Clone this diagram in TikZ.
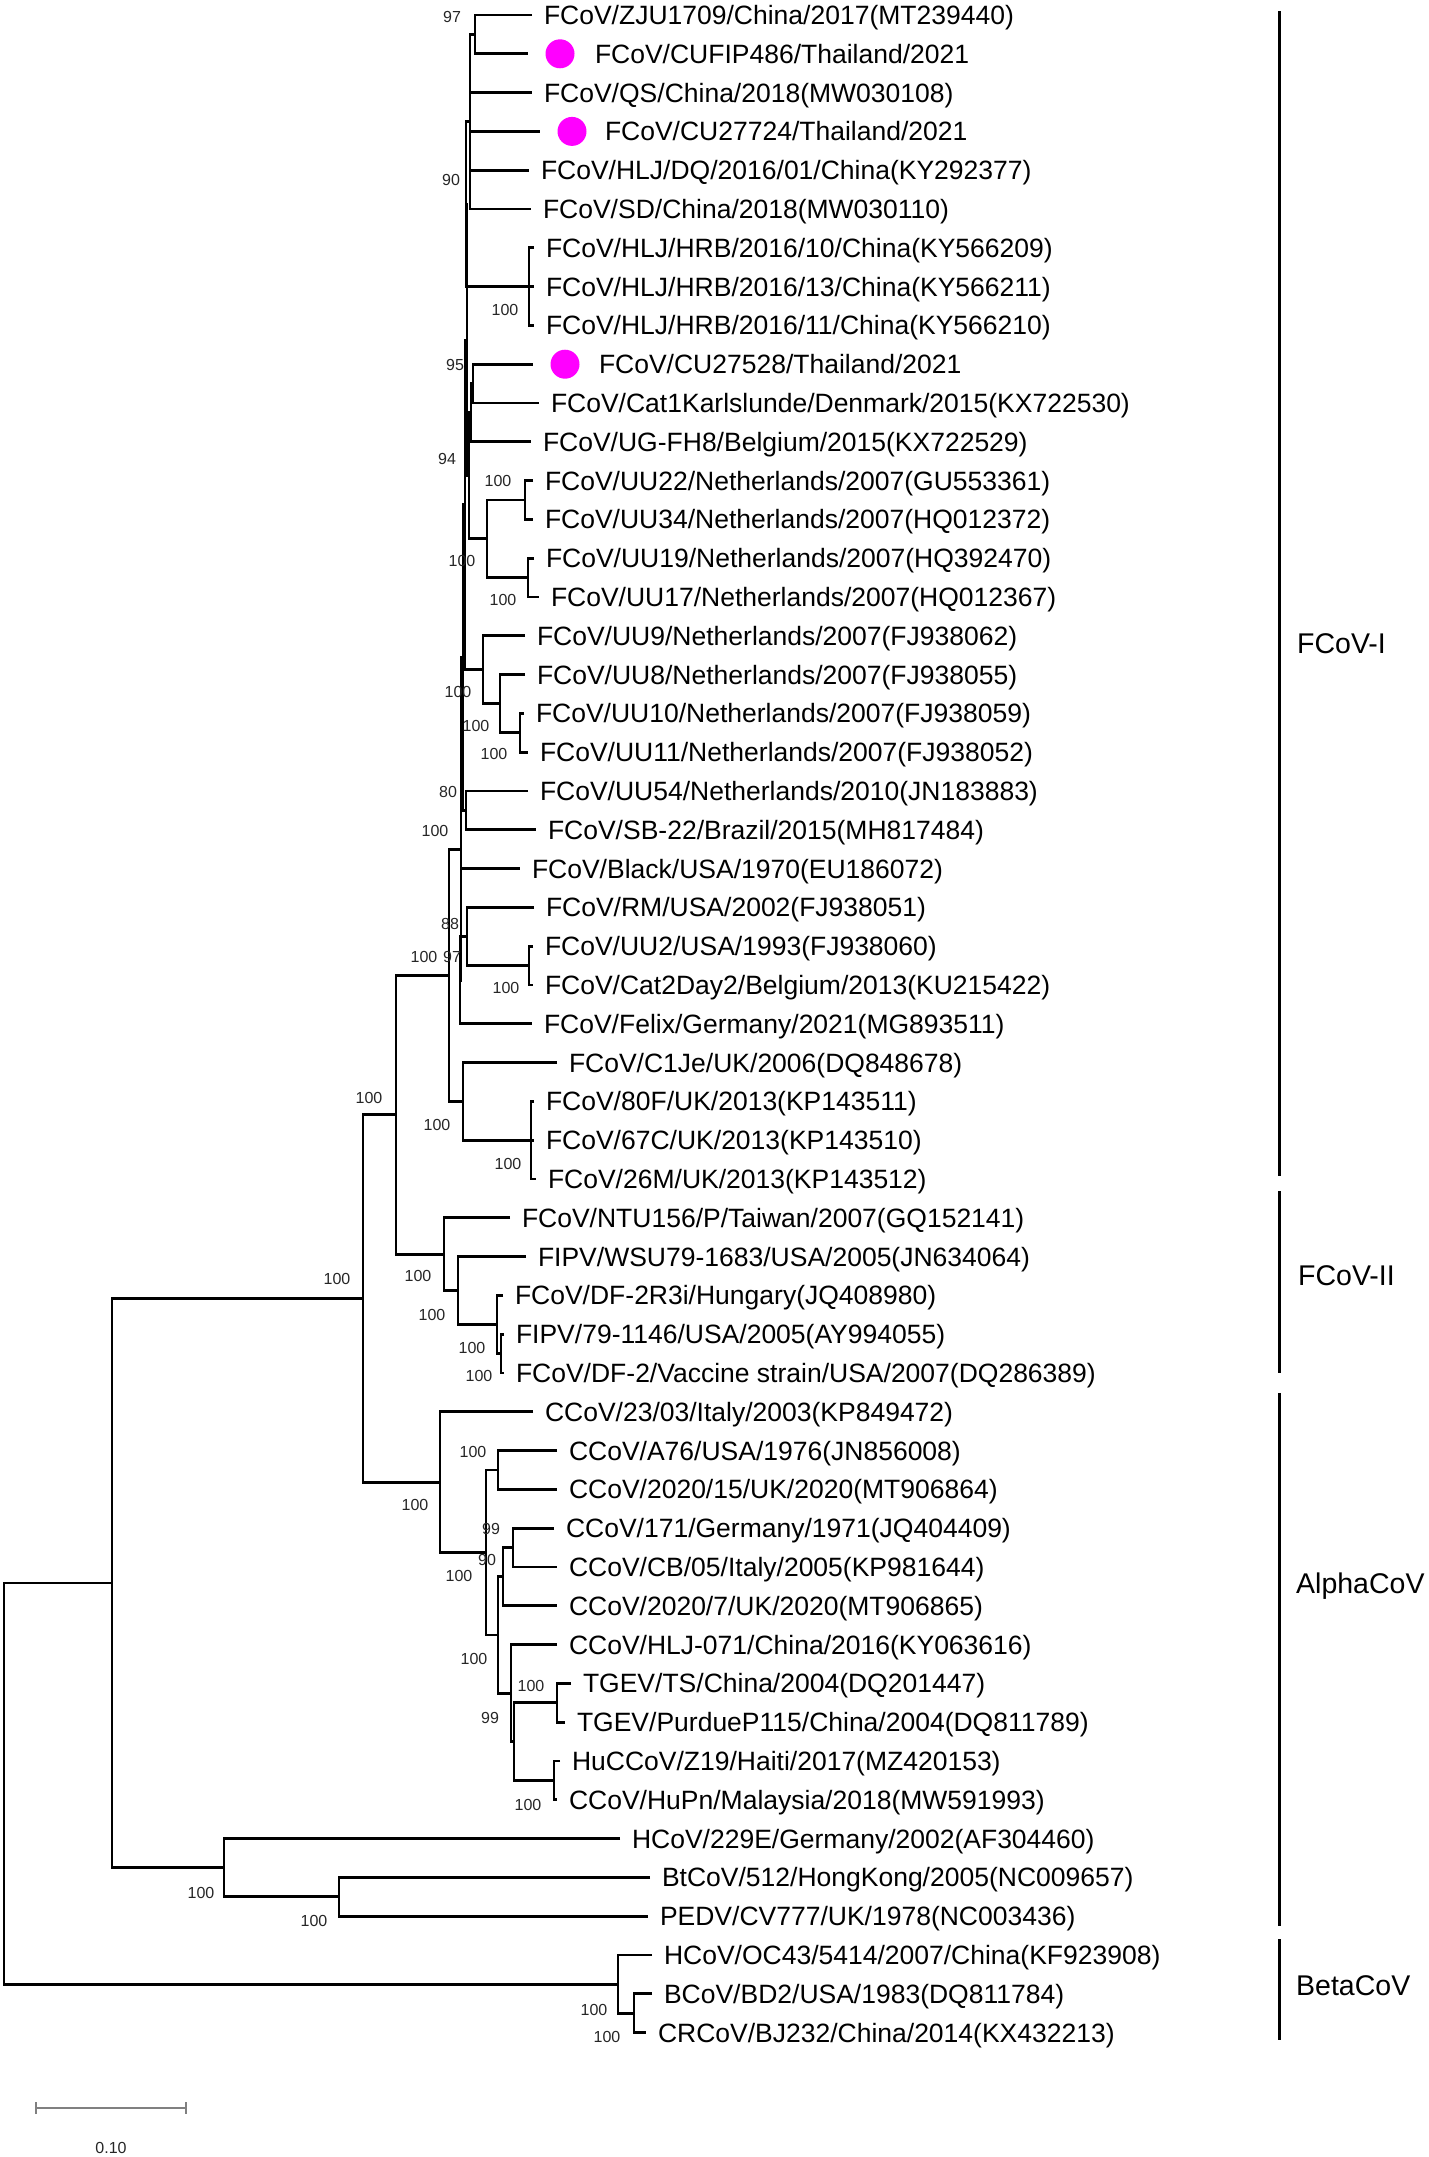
\documentclass[tikz,border=0pt]{standalone}
\usepackage{fontspec}
\setmainfont{Liberation Sans}
\usetikzlibrary{arrows.meta}
\definecolor{thaimag}{RGB}{255,0,255}

\begin{document}
\begin{tikzpicture}[x=1pt,y=-38.8pt,
    br/.style={line width=2.8pt},
    leaf/.style={anchor=west,inner xsep=12pt,inner ysep=0pt,outer sep=0pt,
      text height=19pt,text depth=0pt,font=\fontsize{26.5}{30}\selectfont},
    bs/.style={inner sep=0pt,text height=11.5pt,text depth=0pt,text=black!85,
      font=\fontsize{16}{18}\selectfont},
    thai/.style={circle,fill=thaimag,minimum size=29pt,inner sep=0pt,outer sep=18pt},
    clade/.style={anchor=west,inner sep=0pt,text height=20pt,text depth=0pt,
      font=\fontsize{28.5}{32}\selectfont},
    cbar/.style={line width=3pt},
    sbar/.style={line width=2pt,draw=black!50,{Bar[width=12pt]}-{Bar[width=12pt]}}]
      \useasboundingbox (0,-0.3866) rectangle (1429,55.2062);

      \node[leaf] (l0) at (532,0) {FCoV/ZJU1709/China/2017(MT239440)};
      \node[thai] (d1) at (560,1) {};
      \node[leaf] (l1) at (583,1) {FCoV/CUFIP486/Thailand/2021};
      \node[leaf] (l2) at (532,2) {FCoV/QS/China/2018(MW030108)};
      \node[thai] (d3) at (572,3) {};
      \node[leaf] (l3) at (593,3) {FCoV/CU27724/Thailand/2021};
      \node[leaf] (l4) at (529,4) {FCoV/HLJ/DQ/2016/01/China(KY292377)};
      \node[leaf] (l5) at (531,5) {FCoV/SD/China/2018(MW030110)};
      \node[leaf] (l6) at (534,6) {FCoV/HLJ/HRB/2016/10/China(KY566209)};
      \node[leaf] (l7) at (534,7) {FCoV/HLJ/HRB/2016/13/China(KY566211)};
      \node[leaf] (l8) at (534,8) {FCoV/HLJ/HRB/2016/11/China(KY566210)};
      \node[thai] (d9) at (565,9) {};
      \node[leaf] (l9) at (587,9) {FCoV/CU27528/Thailand/2021};
      \node[leaf] (l10) at (539,10) {FCoV/Cat1Karlslunde/Denmark/2015(KX722530)};
      \node[leaf] (l11) at (531,11) {FCoV/UG-FH8/Belgium/2015(KX722529)};
      \node[leaf] (l12) at (533,12) {FCoV/UU22/Netherlands/2007(GU553361)};
      \node[leaf] (l13) at (533,13) {FCoV/UU34/Netherlands/2007(HQ012372)};
      \node[leaf] (l14) at (534,14) {FCoV/UU19/Netherlands/2007(HQ392470)};
      \node[leaf] (l15) at (539,15) {FCoV/UU17/Netherlands/2007(HQ012367)};
      \node[leaf] (l16) at (525,16) {FCoV/UU9/Netherlands/2007(FJ938062)};
      \node[leaf] (l17) at (525,17) {FCoV/UU8/Netherlands/2007(FJ938055)};
      \node[leaf] (l18) at (524,18) {FCoV/UU10/Netherlands/2007(FJ938059)};
      \node[leaf] (l19) at (528,19) {FCoV/UU11/Netherlands/2007(FJ938052)};
      \node[leaf] (l20) at (528,20) {FCoV/UU54/Netherlands/2010(JN183883)};
      \node[leaf] (l21) at (536,21) {FCoV/SB-22/Brazil/2015(MH817484)};
      \node[leaf] (l22) at (520,22) {FCoV/Black/USA/1970(EU186072)};
      \node[leaf] (l23) at (534,23) {FCoV/RM/USA/2002(FJ938051)};
      \node[leaf] (l24) at (533,24) {FCoV/UU2/USA/1993(FJ938060)};
      \node[leaf] (l25) at (533,25) {FCoV/Cat2Day2/Belgium/2013(KU215422)};
      \node[leaf] (l26) at (532,26) {FCoV/Felix/Germany/2021(MG893511)};
      \node[leaf] (l27) at (557,27) {FCoV/C1Je/UK/2006(DQ848678)};
      \node[leaf] (l28) at (534,28) {FCoV/80F/UK/2013(KP143511)};
      \node[leaf] (l29) at (534,29) {FCoV/67C/UK/2013(KP143510)};
      \node[leaf] (l30) at (536,30) {FCoV/26M/UK/2013(KP143512)};
      \node[leaf] (l31) at (510,31) {FCoV/NTU156/P/Taiwan/2007(GQ152141)};
      \node[leaf] (l32) at (526,32) {FIPV/WSU79-1683/USA/2005(JN634064)};
      \node[leaf] (l33) at (503,33) {FCoV/DF-2R3i/Hungary(JQ408980)};
      \node[leaf] (l34) at (504,34) {FIPV/79-1146/USA/2005(AY994055)};
      \node[leaf] (l35) at (504,35) {FCoV/DF-2/Vaccine strain/USA/2007(DQ286389)};
      \node[leaf] (l36) at (533,36) {CCoV/23/03/Italy/2003(KP849472)};
      \node[leaf] (l37) at (557,37) {CCoV/A76/USA/1976(JN856008)};
      \node[leaf] (l38) at (557,38) {CCoV/2020/15/UK/2020(MT906864)};
      \node[leaf] (l39) at (554,39) {CCoV/171/Germany/1971(JQ404409)};
      \node[leaf] (l40) at (557,40) {CCoV/CB/05/Italy/2005(KP981644)};
      \node[leaf] (l41) at (557,41) {CCoV/2020/7/UK/2020(MT906865)};
      \node[leaf] (l42) at (557,42) {CCoV/HLJ-071/China/2016(KY063616)};
      \node[leaf] (l43) at (571,43) {TGEV/TS/China/2004(DQ201447)};
      \node[leaf] (l44) at (565,44) {TGEV/PurdueP115/China/2004(DQ811789)};
      \node[leaf] (l45) at (560,45) {HuCCoV/Z19/Haiti/2017(MZ420153)};
      \node[leaf] (l46) at (557,46) {CCoV/HuPn/Malaysia/2018(MW591993)};
      \node[leaf] (l47) at (620,47) {HCoV/229E/Germany/2002(AF304460)};
      \node[leaf] (l48) at (650,48) {BtCoV/512/HongKong/2005(NC009657)};
      \node[leaf] (l49) at (648,49) {PEDV/CV777/UK/1978(NC003436)};
      \node[leaf] (l50) at (652,50) {HCoV/OC43/5414/2007/China(KF923908)};
      \node[leaf] (l51) at (652,51) {BCoV/BD2/USA/1983(DQ811784)};
      \node[leaf] (l52) at (646,52) {CRCoV/BJ232/China/2014(KX432213)};

      \coordinate (n97) at (475,0.5);
      \coordinate (nP1) at (470,2.75);
      \coordinate (nHRB) at (529,7);
      \coordinate (n90) at (466,4.875);
      \coordinate (n95) at (473,9.5);
      \coordinate (nX) at (471,10.25);
      \coordinate (nUUa) at (525,12.5);
      \coordinate (nUUb) at (528,14.5);
      \coordinate (nUU) at (487,13.5);
      \coordinate (n94) at (469,11.875);
      \coordinate (nS1) at (467,8.375);
      \coordinate (nUUd) at (520,18.5);
      \coordinate (nUUc) at (500,17.75);
      \coordinate (nUU9) at (483,16.875);
      \coordinate (nS2) at (465,12.625);
      \coordinate (n80) at (466,20.5);
      \coordinate (nS3) at (463,16.5625);
      \coordinate (nUU2) at (529,24.5);
      \coordinate (nRM) at (467,23.75);
      \coordinate (nQ) at (460,24.875);
      \coordinate (nB) at (461,21.5);
      \coordinate (nUK3) at (531,29);
      \coordinate (nUK) at (463,28);
      \coordinate (nA) at (449,24.75);
      \coordinate (n503) at (501,34.5);
      \coordinate (n498) at (497,33.75);
      \coordinate (n458) at (458,32.875);
      \coordinate (nFII) at (444,31.9375);
      \coordinate (nF) at (396,28.34375);
      \coordinate (n100a) at (498,37.5);
      \coordinate (n99) at (513,39.5);
      \coordinate (n90c) at (503,40.25);
      \coordinate (nTG) at (557,43.5);
      \coordinate (nHu) at (554,45.5);
      \coordinate (n99b) at (514,44.5);
      \coordinate (nH) at (511,43.25);
      \coordinate (nM) at (498,41.75);
      \coordinate (n486) at (486,39.625);
      \coordinate (n440) at (440,37.8125);
      \coordinate (n363) at (363,33.078);
      \coordinate (n339) at (339,48.5);
      \coordinate (n224) at (224,47.75);
      \coordinate (n112) at (112,40.414);
      \coordinate (nBs) at (634,51.5);
      \coordinate (nBeta) at (618,50.75);
      \coordinate (root) at (4,45.582);

      \draw[br] (l0) -| (n97) |- (d1);
      \draw[br] (n97) -| (nP1) |- (l5) (nP1) |- (l2) (nP1) |- (d3) (nP1) |- (l4);
      \draw[br] (l6) -| (nHRB) |- (l8) (nHRB) -- (l7);
      \draw[br] (nP1) -| (n90) |- (nHRB);
      \draw[br] (d9) -| (n95) |- (l10);
      \draw[br] (n95) -| (nX) |- (l11);
      \draw[br] (l12) -| (nUUa) |- (l13);
      \draw[br] (l14) -| (nUUb) |- (l15);
      \draw[br] (nUUa) -| (nUU) |- (nUUb);
      \draw[br] (nX) -| (n94) |- (nUU);
      \draw[br] (n90) -| (nS1) |- (n94);
      \draw[br] (l18) -| (nUUd) |- (l19);
      \draw[br] (l17) -| (nUUc) |- (nUUd);
      \draw[br] (l16) -| (nUU9) |- (nUUc);
      \draw[br] (nS1) -| (nS2) |- (nUU9);
      \draw[br] (l20) -| (n80) |- (l21);
      \draw[br] (nS2) -| (nS3) |- (n80);
      \draw[br] (l24) -| (nUU2) |- (l25);
      \draw[br] (l23) -| (nRM) |- (nUU2);
      \draw[br] (nRM) -| (nQ) |- (l26);
      \draw[br] (nS3) -| (nB) |- (nQ) (nB) |- (l22);
      \draw[br] (l28) -| (nUK3) |- (l30) (nUK3) -- (l29);
      \draw[br] (l27) -| (nUK) |- (nUK3);
      \draw[br] (nB) -| (nA) |- (nUK);
      \draw[br] (l34) -| (n503) |- (l35);
      \draw[br] (l33) -| (n498) |- (n503);
      \draw[br] (l32) -| (n458) |- (n498);
      \draw[br] (l31) -| (nFII) |- (n458);
      \draw[br] (nA) -| (nF) |- (nFII);
      \draw[br] (l37) -| (n100a) |- (l38);
      \draw[br] (l39) -| (n99) |- (l40);
      \draw[br] (n99) -| (n90c) |- (l41);
      \draw[br] (l43) -| (nTG) |- (l44);
      \draw[br] (l45) -| (nHu) |- (l46);
      \draw[br] (nTG) -| (n99b) |- (nHu);
      \draw[br] (l42) -| (nH) |- (n99b);
      \draw[br] (n90c) -| (nM) |- (nH);
      \draw[br] (n100a) -| (n486) |- (nM);
      \draw[br] (l36) -| (n440) |- (n486);
      \draw[br] (nF) -| (n363) |- (n440);
      \draw[br] (l48) -| (n339) |- (l49);
      \draw[br] (l47) -| (n224) |- (n339);
      \draw[br] (n363) -| (n112) |- (n224);
      \draw[br] (l51) -| (nBs) |- (l52);
      \draw[br] (l50) -| (nBeta) |- (nBs);
      \draw[br] (n112) -| (root) |- (nBeta);

      \node[bs] (b97) at (452,0.039) {97};
      \node[bs] (b90) at (451,4.253) {90};
      \node[bs] (bHRB) at (505,7.590) {100};
      \node[bs] (b95) at (455,9.008) {95};
      \node[bs] (b94) at (447,11.443) {94};
      \node[bs] (bUUa) at (498,12.010) {100};
      \node[bs] (bUU) at (462,14.072) {100};
      \node[bs] (bUUb) at (503,15.077) {100};
      \node[bs] (bUU9) at (458,17.448) {100};
      \node[bs] (bUUc) at (476,18.325) {100};
      \node[bs] (bUUd) at (494,19.046) {100};
      \node[bs] (b80) at (448,20.026) {80};
      \node[bs] (bB) at (435,21.031) {100};
      \node[bs] (b88) at (450,23.428) {88};
      \node[bs] (bA) at (424,24.278) {100};
      \node[bs] (bQ) at (452,24.278) {97};
      \node[bs] (bUU2) at (506,25.077) {100};
      \node[bs] (bF) at (369,27.912) {100};
      \node[bs] (bUK) at (437,28.608) {100};
      \node[bs] (bUK3) at (508,29.613) {100};
      \node[bs] (b363) at (337,32.577) {100};
      \node[bs] (bFII) at (418,32.500) {100};
      \node[bs] (b458) at (432,33.505) {100};
      \node[bs] (b498) at (472,34.356) {100};
      \node[bs] (b503) at (479,35.077) {100};
      \node[bs] (b100a) at (473,37.036) {100};
      \node[bs] (b440) at (415,38.402) {100};
      \node[bs] (b99) at (491,39.021) {99};
      \node[bs] (b90c) at (487,39.820) {90};
      \node[bs] (b486) at (459,40.232) {100};
      \node[bs] (bM) at (474,42.371) {100};
      \node[bs] (bTG) at (531,43.067) {100};
      \node[bs] (b99b) at (490,43.892) {99};
      \node[bs] (bHu) at (528,46.134) {100};
      \node[bs] (b224) at (201,48.402) {100};
      \node[bs] (b339) at (314,49.124) {100};
      \node[bs] (bBeta) at (594,51.418) {100};
      \node[bs] (bBs) at (607,52.113) {100};

      \coordinate (cI1) at (1279,-0.103);
      \coordinate (cI2) at (1279,29.923);
      \coordinate (cII1) at (1279,30.309);
      \coordinate (cII2) at (1279,35.0);
      \coordinate (cA1) at (1279,35.515);
      \coordinate (cA2) at (1279,49.253);
      \coordinate (cB1) at (1279,49.588);
      \coordinate (cB2) at (1279,52.191);
      \draw[cbar] (cI1) -- (cI2);
      \draw[cbar] (cII1) -- (cII2);
      \draw[cbar] (cA1) -- (cA2);
      \draw[cbar] (cB1) -- (cB2);
      \node[clade] (tI) at (1297,16.211) {FCoV-I};
      \node[clade] (tII) at (1298,32.474) {FCoV-II};
      \node[clade] (tA) at (1296,40.412) {AlphaCoV};
      \node[clade] (tB) at (1296,50.773) {BetaCoV};

      \coordinate (sb1) at (35,53.943);
      \coordinate (sb2) at (187,53.943);
      \draw[sbar] (sb1) -- (sb2);
      \node[bs] (sbl) at (111,54.974) {0.10};
    \end{tikzpicture}
\end{document}
